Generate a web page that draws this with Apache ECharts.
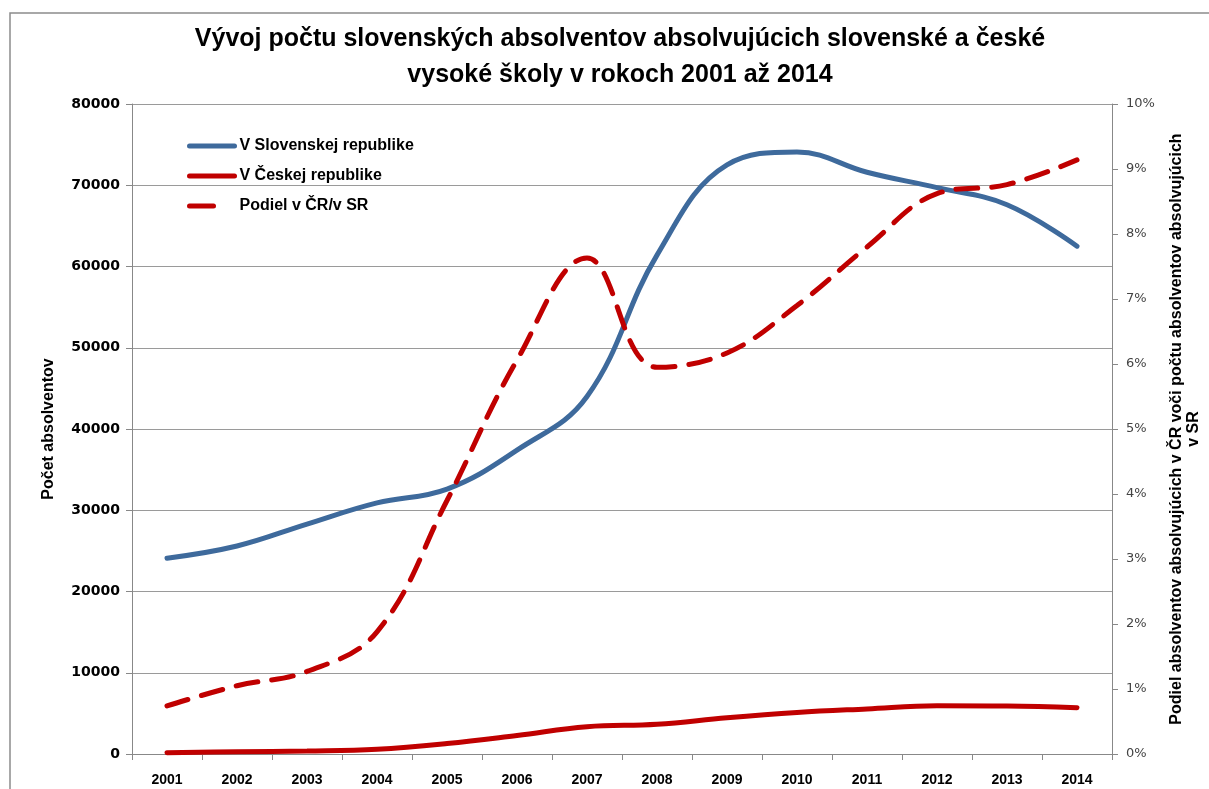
<!DOCTYPE html>
<html>
<head>
<meta charset="utf-8">
<script src="https://cdn.jsdelivr.net/npm/echarts@6/dist/echarts.min.js"></script>
<style>
  html, body { margin: 0; padding: 0; background: #fff; }
  #main { width: 1209px; height: 789px; }
</style>
</head>
<body>
<div id="main"></div>
<script>
// roky
var years = ["2001", "2002", "2003", "2004", "2005", "2006", "2007", "2008", "2009", "2010", "2011", "2012", "2013", "2014"];
// počet absolventov v SR
var sr = [24100, 25600, 28300, 30900, 32600, 37400, 44000, 61400, 72500, 74100, 71600, 69700, 67600, 62500];
// počet absolventov v ČR
var cr = [150, 270, 360, 580, 1280, 2270, 3350, 3650, 4450, 5100, 5550, 5950, 5900, 5700];
// podiel ČR / SR
var podiel = [0.0074, 0.0105, 0.0127, 0.0188, 0.0390, 0.0606, 0.0763, 0.0595, 0.0617, 0.0690, 0.0780, 0.0862, 0.0876, 0.0914];

var myChart = echarts.init(document.getElementById("main"));

myChart.setOption({
  backgroundColor: "#fff",
  animation: false,
  graphic: [
    {
      type: "rect",
      shape: { x: 10, y: 13, width: 1220, height: 800 },
      style: { fill: "none", stroke: "#8c8c8c", lineWidth: 1.5 }
    }
  ],
  title: {
    text: "Vývoj počtu slovenských absolventov absolvujúcich slovenské a české\nvysoké školy v rokoch 2001 až 2014",
    left: 615,
    textAlign: "center",
    top: 16,
    textStyle: {
      fontFamily: "Liberation Sans",
      fontSize: 25,
      fontWeight: "bold",
      color: "#000",
      lineHeight: 36
    }
  },
  legend: {
    orient: "vertical",
    left: 182,
    top: 133,
    itemWidth: 45,
    itemHeight: 14,
    itemGap: 14,
    itemStyle: { opacity: 0 },
    lineStyle: { width: 5 },
    textStyle: { fontFamily: "Liberation Sans", fontSize: 16, fontWeight: "bold", color: "#000" },
    data: [
      "V Slovenskej republike",
      "V Českej republike",
      { name: "Podiel v ČR/v SR", lineStyle: { width: 5, type: [24, 40] } }
    ]
  },
  grid: { left: 132, right: 97, top: 104, bottom: 35, outerBoundsMode: "none" },
  xAxis: {
    type: "category",
    data: years,
    boundaryGap: true,
    axisLine: { lineStyle: { color: "#888", width: 1 } },
    axisTick: { show: true, length: 6, lineStyle: { color: "#888" } },
    axisLabel: { fontFamily: "Liberation Sans", fontSize: 14, fontWeight: "bold", color: "#000", margin: 19 }
  },
  yAxis: [
    {
      type: "value",
      min: 0,
      max: 80000,
      interval: 10000,
      name: "Počet absolventov",
      nameLocation: "middle",
      nameRotate: 90,
      nameGap: 75,
      nameTextStyle: { fontFamily: "Liberation Sans", fontSize: 16, fontWeight: "bold", color: "#000" },
      axisLine: { show: true, lineStyle: { color: "#888" } },
      axisTick: { show: true, length: 6, lineStyle: { color: "#888" } },
      axisLabel: {
        fontFamily: "DejaVu Sans",
        fontSize: 14,
        fontWeight: "bold",
        color: "#000",
        margin: 12,
        formatter: function (v) { return String(v); }
      },
      splitLine: { show: true, lineStyle: { color: "#9a9a9a", width: 1 } }
    },
    {
      type: "value",
      min: 0,
      max: 0.1,
      interval: 0.01,
      position: "right",
      name: "Podiel absolventov absolvujúcich v ČR voči počtu absolventov absolvujúcich\nv SR",
      nameLocation: "middle",
      nameRotate: 90,
      nameGap: 56,
      nameTextStyle: { fontFamily: "Liberation Sans", fontSize: 16, fontWeight: "bold", color: "#000", lineHeight: 17 },
      axisLine: { show: true, lineStyle: { color: "#888" } },
      axisTick: { show: true, length: 6, lineStyle: { color: "#888" } },
      axisLabel: {
        fontFamily: "DejaVu Sans",
        fontSize: 13,
        color: "#444",
        margin: 14,
        formatter: function (v) { return Math.round(v * 100) + "%"; }
      },
      splitLine: { show: false }
    }
  ],
  series: [
    {
      name: "V Slovenskej republike",
      type: "line",
      data: sr,
      smooth: 0.4,
      symbol: "none",
      color: "#3e6a9c",
      lineStyle: { color: "#3e6a9c", width: 5, cap: "round" }
    },
    {
      name: "V Českej republike",
      type: "line",
      data: cr,
      smooth: 0.4,
      symbol: "none",
      color: "#c00000",
      lineStyle: { color: "#c00000", width: 5, cap: "round" }
    },
    {
      name: "Podiel v ČR/v SR",
      type: "line",
      yAxisIndex: 1,
      data: podiel,
      smooth: 0.4,
      symbol: "none",
      color: "#c00000",
      lineStyle: { color: "#c00000", width: 5, type: [22, 14], cap: "round" }
    }
  ]
});
</script>
</body>
</html>
